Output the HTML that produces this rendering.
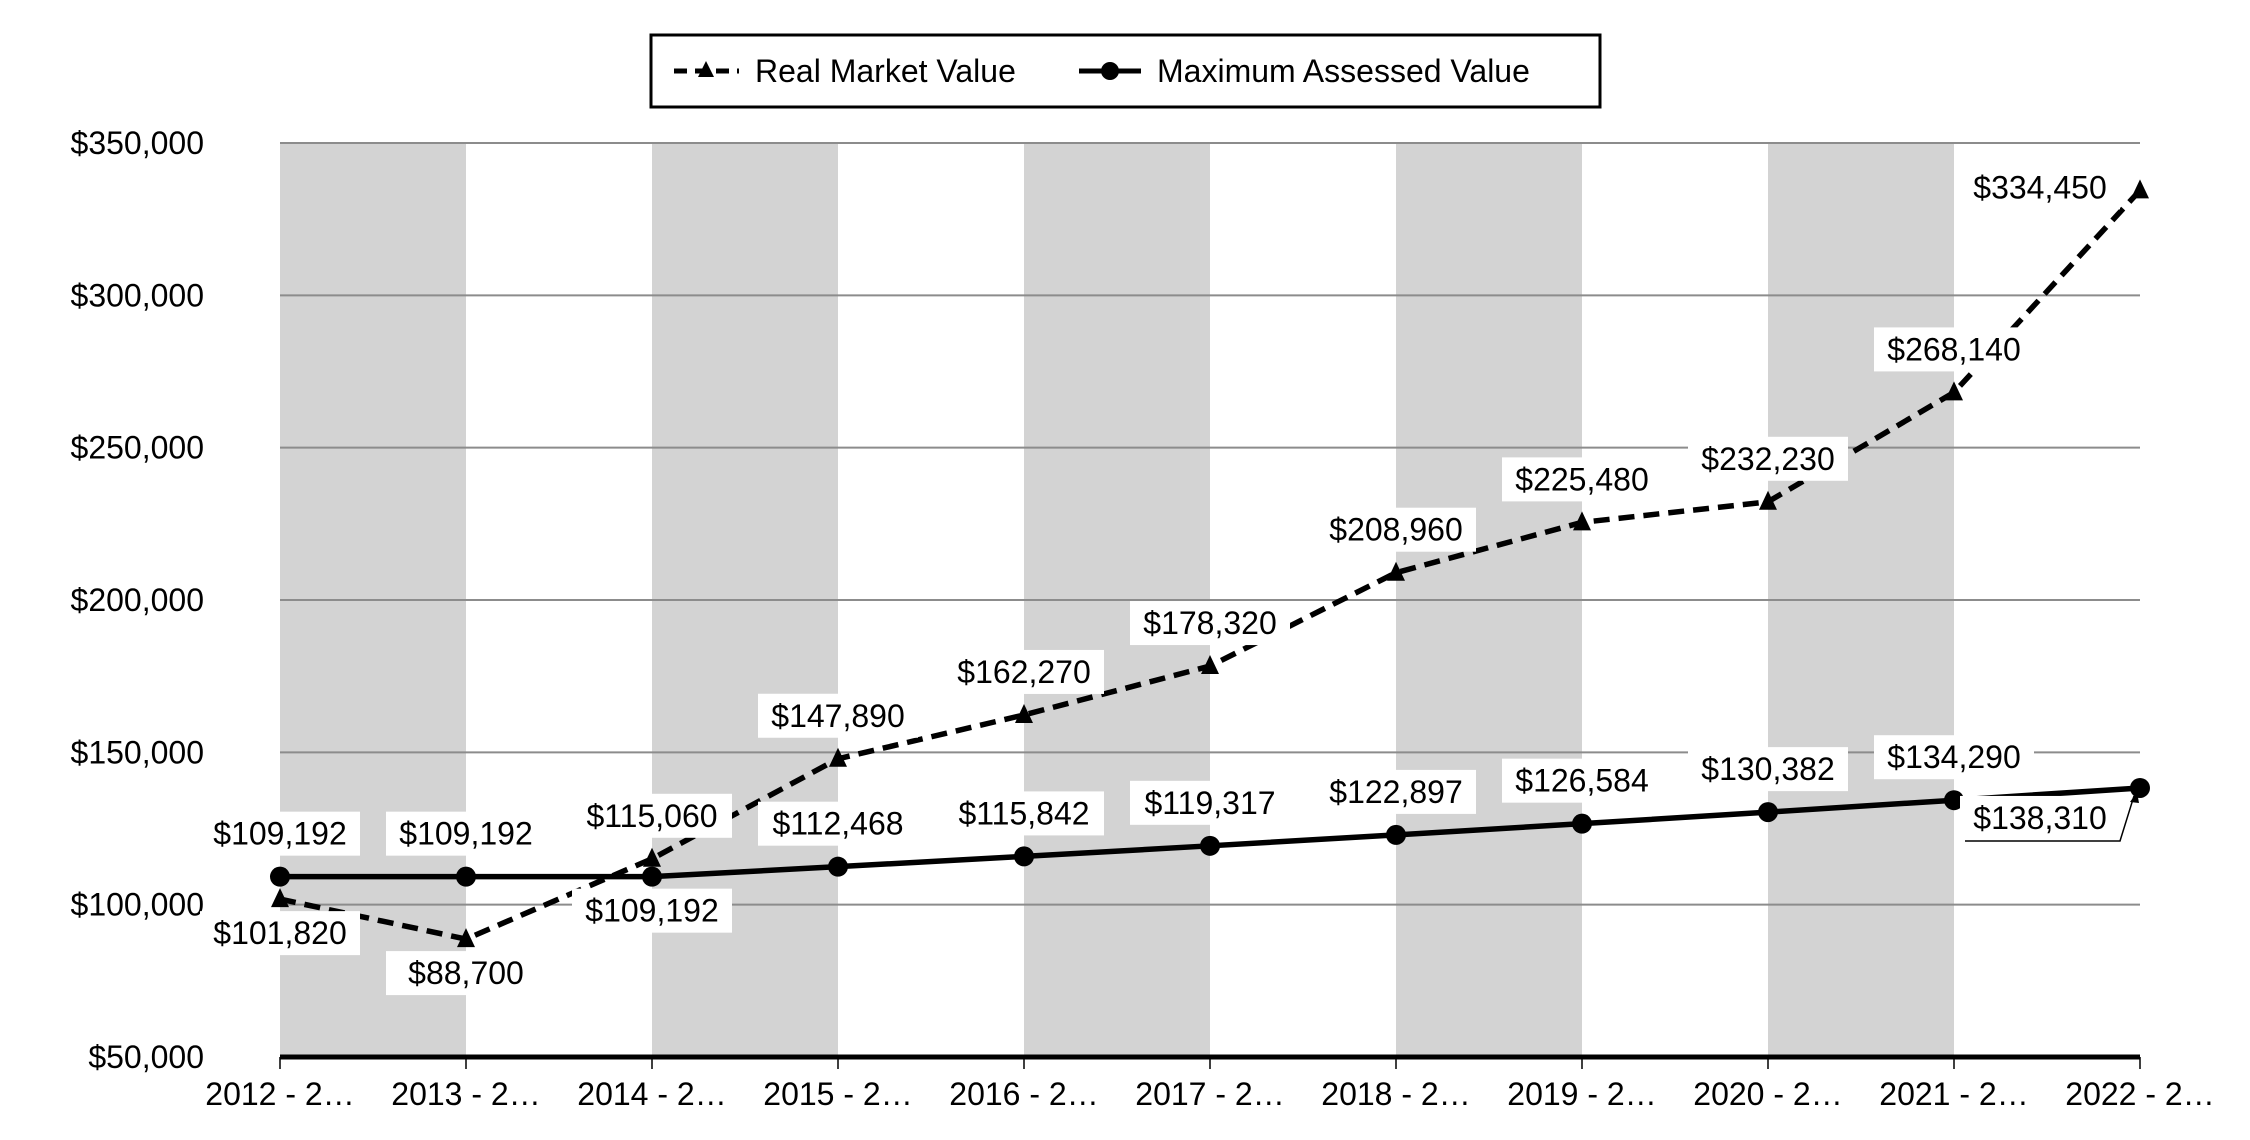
<!DOCTYPE html>
<html><head><meta charset="utf-8"><style>
html,body{margin:0;padding:0;background:#fff;}
svg{display:block;font-family:"Liberation Sans",Arial,sans-serif;}
</style></head><body>
<svg id="chart" width="2250" height="1140" viewBox="0 0 2250 1140" xmlns="http://www.w3.org/2000/svg">
<g id="bands"></g>
<g id="grid"></g>
<g id="yaxis"></g>
<g id="xaxis"></g>
<g id="series"></g>
<g id="labels"></g>
<g id="legend">
  <rect x="651" y="35" width="949" height="72" fill="#fff" stroke="#000" stroke-width="3"/>
  <g>
    <line x1="674" y1="71" x2="739" y2="71" stroke="#000" stroke-width="5" stroke-dasharray="13,8"/>
    <polygon points="706,61 714,77 698,77" fill="#000"/>
    <text x="755" y="82" font-size="32">Real Market Value</text>
  </g>
  <g>
    <line x1="1079" y1="71" x2="1141" y2="71" stroke="#000" stroke-width="5"/>
    <circle cx="1110" cy="71" r="9" fill="#000"/>
    <text x="1157" y="82" font-size="32">Maximum Assessed Value</text>
  </g>
</g>
</svg>
<script>
const categories = ["2012 - 2…","2013 - 2…","2014 - 2…","2015 - 2…","2016 - 2…","2017 - 2…","2018 - 2…","2019 - 2…","2020 - 2…","2021 - 2…","2022 - 2…"];
const realMarketValue = [101820, 88700, 115060, 147890, 162270, 178320, 208960, 225480, 232230, 268140, 334450];
const maxAssessedValue = [109192, 109192, 109192, 112468, 115842, 119317, 122897, 126584, 130382, 134290, 138310];
const yTicks = [50000, 100000, 150000, 200000, 250000, 300000, 350000];
const rmvPlacement = ["below","below","above","above","above","above","above","above","above","above","left"];
const mavPlacement = ["above","above","below","above","above","above","above","above","above","above","belowleft"];

const NS = "http://www.w3.org/2000/svg";
const L = 280, R = 2140, T = 143, B = 1057;
const yMin = 50000, yMax = 350000;
function x(i){ return L + i * (R - L) / (categories.length - 1); }
function y(v){ return B - (v - yMin) / (yMax - yMin) * (B - T); }
function el(tag, attrs, parent){ const e = document.createElementNS(NS, tag); for (const k in attrs) e.setAttribute(k, attrs[k]); parent.appendChild(e); return e; }
function fmt(v){ return "$" + v.toLocaleString("en-US"); }

const bands = document.getElementById("bands");
for (let i = 0; i + 1 < categories.length; i += 2) {
  const r = el("rect", {x: x(i), y: T, width: x(i+1) - x(i), height: B - T, fill: "#d3d3d3"}, bands);
  
  
}
const grid = document.getElementById("grid");
const yaxis = document.getElementById("yaxis");
yTicks.forEach(v => {
  if (v !== yMin) {
    const g = el("line", {x1: L, x2: R, y1: y(v), y2: y(v), stroke: "#8c8c8c", "stroke-width": 2}, grid);
    
    
  }
  const t = el("text", {x: 204, y: y(v) + 11, "font-size": 32, "text-anchor": "end"}, yaxis);
  t.textContent = fmt(v);
  
  
});
const xaxis = document.getElementById("xaxis");
const axl = el("line", {x1: L, x2: R, y1: B, y2: B, stroke: "#000", "stroke-width": 5}, xaxis);


categories.forEach((c, i) => {
  const tk = el("line", {x1: x(i), x2: x(i), y1: B, y2: B + 12, stroke: "#000", "stroke-width": 1.5}, xaxis);
  
  
  const t = el("text", {x: x(i), y: 1105, "font-size": 32, "text-anchor": "middle"}, xaxis);
  t.textContent = c.replace(" - ", "  -  ");
  t.setAttribute("xml:space", "preserve");
  
  
});

const series = document.getElementById("series");
const mavPts = maxAssessedValue.map((v, i) => x(i) + "," + y(v)).join(" ");
const mavLine = el("polyline", {points: mavPts, fill: "none", stroke: "#000", "stroke-width": 5.5}, series);


const rmvPts = realMarketValue.map((v, i) => x(i) + "," + y(v)).join(" ");
const rmvLine = el("polyline", {points: rmvPts, fill: "none", stroke: "#000", "stroke-width": 5.5, "stroke-dasharray": "16,9"}, series);


maxAssessedValue.forEach((v, i) => {
  const c = el("circle", {cx: x(i), cy: y(v), r: 10, fill: "#000"}, series);
  
  
});
realMarketValue.forEach((v, i) => {
  const px = x(i), py = y(v);
  const p = el("polygon", {points: `${px},${py-11} ${px+9},${py+8} ${px-9},${py+8}`, fill: "#000"}, series);
  
  
});

const labels = document.getElementById("labels");
function addLabel(v, i, place, name){
  const px = x(i), py = y(v);
  let cx = px, cy;
  if (place === "above") cy = py - 43;
  else if (place === "below") cy = py + 34;
  else if (place === "left") { cx = px - 100; cy = py - 3; }
  else { cx = px - 100; cy = py + 30; }
  const w = 160, h = 44;
  const g = el("g", {}, labels);
  
  
  el("rect", {x: cx - w/2, y: cy - h/2, width: w, height: h, fill: "#fff"}, g);
  const t = el("text", {x: cx, y: cy + 11, "font-size": 32, "text-anchor": "middle"}, g);
  t.textContent = fmt(v);
  if (place === "belowleft") {
    el("polyline", {points: `${cx-75},${cy+23} ${cx+80},${cy+23} ${px-6},${py+8}`, fill: "none", stroke: "#000", "stroke-width": 1.5}, g);
    el("polygon", {points: `${px-3},${py+4} ${px-10},${py+14} ${px-1},${py+15}`, fill: "#000"}, g);
  }
}
realMarketValue.forEach((v, i) => addLabel(v, i, rmvPlacement[i], "real-market-value-label"));
maxAssessedValue.forEach((v, i) => addLabel(v, i, mavPlacement[i], "max-assessed-value-label"));
</script>
</body></html>
